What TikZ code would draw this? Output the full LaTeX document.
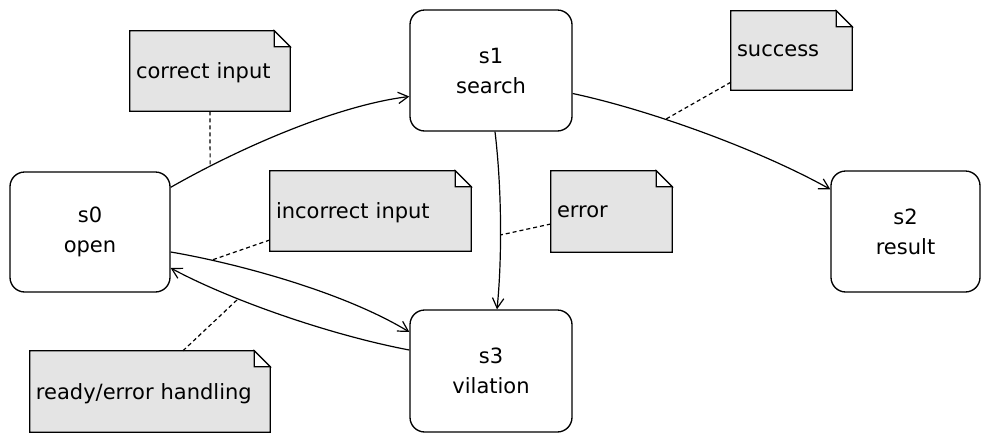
\documentclass[tikz,border=0pt]{standalone}
\usepackage{fontspec}
\setmainfont{DejaVu Sans}
\usetikzlibrary{arrows.meta,calc,backgrounds}
\definecolor{notefill}{RGB}{228,228,228}
\begin{document}
\begin{tikzpicture}[x=0.75pt,y=-0.75pt,
  txt/.style={font=\fontsize{15.75}{22.5}\selectfont},
  state/.style={txt,draw,line width=1pt,rounded corners=11pt,align=center,inner sep=0pt},
  notebox/.style={txt,align=left,inner xsep=4.5pt,inner ysep=0pt,text depth=0pt,text width=#1},
  edge/.style={line width=0.9pt,-{Straight Barb[length=7.5pt,width=8.5pt,line width=0.9pt]}},
  link/.style={line width=0.9pt,dash pattern=on 3pt off 2.25pt},
  noteshape/.style={draw,line width=1pt,fill=notefill}]

\useasboundingbox (0,0) rectangle (982,433);

% states
\node[state,minimum width=120pt,minimum height=90pt] (s0) at (90,232) {s0\\open};
\node[state,minimum width=121.5pt,minimum height=90.75pt] (s1) at (491,70.5) {s1\\search};
\node[state,minimum width=111.75pt,minimum height=90.75pt] (s2) at (905.5,231.5) {s2\\result};
\node[state,minimum width=121.5pt,minimum height=91.5pt] (s3) at (491,371) {s3\\vilation};

% notes
\node[notebox=111pt,minimum height=60pt] (nc) at (210,71) {correct input};
\node[notebox=141.75pt,minimum height=60pt] (ni) at (370.5,211) {incorrect input};
\node[notebox=81.75pt,minimum height=60.75pt] (ne) at (611.5,211.5) {error};
\node[notebox=81.75pt,minimum height=59.25pt] (ns) at (791.5,50.5) {success};
\node[notebox=171pt,minimum height=60.75pt] (nr) at (150,391.5) {ready/error handling};

\begin{scope}[on background layer]
\foreach \n in {nc,ni,ne,ns,nr}{
  \draw[noteshape] (\n.south west) -- (\n.north west) -- ([xshift=-12pt]\n.north east)
     -- ([yshift=-12pt]\n.north east) -- (\n.south east) -- cycle;
  \draw[line width=1pt,fill=white] ([xshift=-12pt]\n.north east) |- ([yshift=-12pt]\n.north east) -- cycle;
}
\end{scope}

% transitions
\draw[edge] ($(s0.north east)+(0,16)$) .. controls (245,145) and (340,105) .. ($(s1.west)+(0,26)$)
  coordinate[pos=0.17] (j1);
\draw[edge] ($(s1.east)+(0,23)$) .. controls (650,110) and (760,150) .. ($(s2.north west)+(0,19)$)
  coordinate[pos=0.36] (j2);
\draw[edge] ($(s1.south)+(4,0)$) .. controls (502,190) and (502,260) .. ($(s3.north)+(6,0)$)
  coordinate[pos=0.56] (j3);
\draw[edge] ($(s0.east)+(0,20)$) .. controls (230,262) and (340,290) .. ($(s3.west)+(0,-39)$)
  coordinate[pos=0.2] (j4);
\draw[edge] ($(s3.west)+(0,-21)$) .. controls (330,335) and (230,300) .. ($(s0.east)+(0,36)$)
  coordinate[pos=0.68] (j5);

% note links
\draw[link] (nc.south) -- (j1);
\draw[link] ($(ns.south west)+(0,-8)$) -- (j2);
\draw[link] ($(ne.west)+(0,12.5)$) -- (j3);
\draw[link] ($(ni.west)+(0,29)$) -- (j4);
\draw[link] ($(nr.north)+(33,0)$) -- (j5);
\end{tikzpicture}
\end{document}
